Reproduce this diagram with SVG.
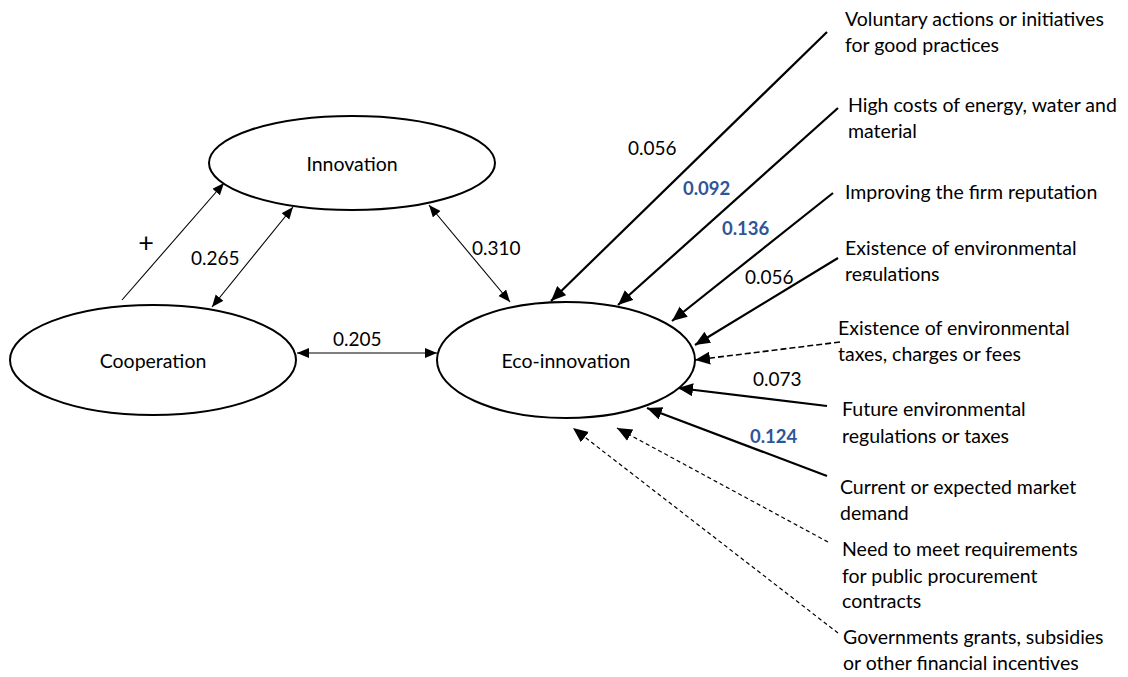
<svg xmlns="http://www.w3.org/2000/svg" width="1128" height="677" viewBox="0 0 1128 677">
  <style>
    text { font-family: Lato, "Open Sans", sans-serif; fill: #000; }
    .node { fill: #fff; stroke: #000; stroke-width: 2; }
    .nlabel { font-size: 19.5px; text-anchor: middle; dominant-baseline: central; }
    .lbl { font-size: 19.5px; }
    .num { font-size: 19px; }
    .plus { font-size: 27px; }
    .blue { fill: #2e5597; font-weight: bold; font-size: 18.5px; }
    .thin { stroke: #000; stroke-width: 1.1; fill: none; }
    .thick { stroke: #000; stroke-width: 2.2; fill: none; }
    .dash { stroke: #000; stroke-width: 1.6; fill: none; stroke-dasharray: 6 3; }
    .dashthin { stroke: #000; stroke-width: 1.2; fill: none; stroke-dasharray: 4 3; }
  </style>
  <defs>
    <marker id="ah" markerUnits="userSpaceOnUse" markerWidth="17" markerHeight="15" refX="15" refY="6.5" orient="auto-start-reverse">
      <path d="M0,0 L15,6.5 L0,13 Z" fill="#000"/>
    </marker>
    <marker id="ahs" markerUnits="userSpaceOnUse" markerWidth="14" markerHeight="12" refX="12" refY="5" orient="auto-start-reverse">
      <path d="M0,0 L12,5 L0,10 Z" fill="#000"/>
    </marker>
    <clipPath id="clipReg"><rect x="830" y="230" width="300" height="51"/></clipPath>
  </defs>

  <!-- connectors -->
  <g id="connectors">
    <line class="thin" x1="122" y1="300" x2="224" y2="183" marker-end="url(#ahs)"/>
    <line class="thin" x1="212" y1="307" x2="293" y2="207" marker-start="url(#ahs)" marker-end="url(#ahs)"/>
    <line class="thin" x1="297" y1="353" x2="437" y2="353" marker-start="url(#ahs)" marker-end="url(#ahs)"/>
    <line class="thin" x1="429" y1="205" x2="510" y2="302" marker-start="url(#ahs)" marker-end="url(#ahs)"/>

    <line class="thick" x1="827" y1="32" x2="551" y2="301" marker-end="url(#ah)"/>
    <line class="thick" x1="838" y1="108" x2="618" y2="305" marker-end="url(#ah)"/>
    <line class="thick" x1="833" y1="193" x2="672" y2="321" marker-end="url(#ah)"/>
    <line class="thick" x1="838" y1="258" x2="695" y2="345" marker-end="url(#ah)"/>
    <line class="dash" x1="840" y1="342" x2="695" y2="360" marker-end="url(#ah)"/>
    <line class="thick" x1="827" y1="406" x2="678" y2="388" marker-end="url(#ah)"/>
    <line class="thick" x1="827" y1="476" x2="647" y2="408" marker-end="url(#ah)"/>
    <line class="dashthin" x1="828" y1="542" x2="617" y2="428" marker-end="url(#ah)"/>
    <line class="dashthin" x1="838" y1="633" x2="573" y2="428" marker-end="url(#ah)"/>

    <text class="plus" x="146" y="252" text-anchor="middle">+</text>
    <text class="num" x="191" y="265">0.265</text>
    <text class="num" x="333" y="346">0.205</text>
    <text class="num" x="472" y="255">0.310</text>
    <text class="num" x="628" y="155">0.056</text>
    <text class="num blue" x="683" y="195">0.092</text>
    <text class="num blue" x="722" y="235">0.136</text>
    <text class="num" x="745" y="284">0.056</text>
    <text class="num" x="753" y="386">0.073</text>
    <text class="num blue" x="750" y="443">0.124</text>
  </g>

  <!-- nodes -->
  <g id="innovation">
    <ellipse class="node" cx="352" cy="163" rx="143" ry="47"/>
    <text class="nlabel" x="352" y="163">Innovation</text>
  </g>
  <g id="cooperation">
    <ellipse class="node" cx="153" cy="360" rx="143" ry="55"/>
    <text class="nlabel" x="153" y="360">Cooperation</text>
  </g>
  <g id="eco-innovation">
    <ellipse class="node" cx="566" cy="360" rx="129" ry="58"/>
    <text class="nlabel" x="566" y="360">Eco-innovation</text>
  </g>

  <!-- driver labels -->
  <g id="voluntary">
    <text class="lbl" x="845" y="26">Voluntary actions or initiatives</text>
    <text class="lbl" x="845" y="52">for good practices</text>
  </g>
  <g id="high-costs">
    <text class="lbl" x="848" y="112">High costs of energy, water and</text>
    <text class="lbl" x="848" y="138">material</text>
  </g>
  <g id="reputation">
    <text class="lbl" x="845" y="199">Improving the firm reputation</text>
  </g>
  <g id="regulations">
    <text class="lbl" x="845" y="255">Existence of environmental</text>
    <text class="lbl" x="845" y="281" clip-path="url(#clipReg)">regulations</text>
  </g>
  <g id="taxes">
    <text class="lbl" x="838" y="335">Existence of environmental</text>
    <text class="lbl" x="838" y="361">taxes, charges or fees</text>
  </g>
  <g id="future-regulations">
    <text class="lbl" x="842" y="416">Future environmental</text>
    <text class="lbl" x="842" y="443">regulations or taxes</text>
  </g>
  <g id="market-demand">
    <text class="lbl" x="840" y="494">Current or expected market</text>
    <text class="lbl" x="840" y="520">demand</text>
  </g>
  <g id="procurement">
    <text class="lbl" x="842" y="556">Need to meet requirements</text>
    <text class="lbl" x="842" y="583">for public procurement</text>
    <text class="lbl" x="842" y="608">contracts</text>
  </g>
  <g id="grants">
    <text class="lbl" x="843" y="644">Governments grants, subsidies</text>
    <text class="lbl" x="843" y="670">or other financial incentives</text>
  </g>
</svg>
